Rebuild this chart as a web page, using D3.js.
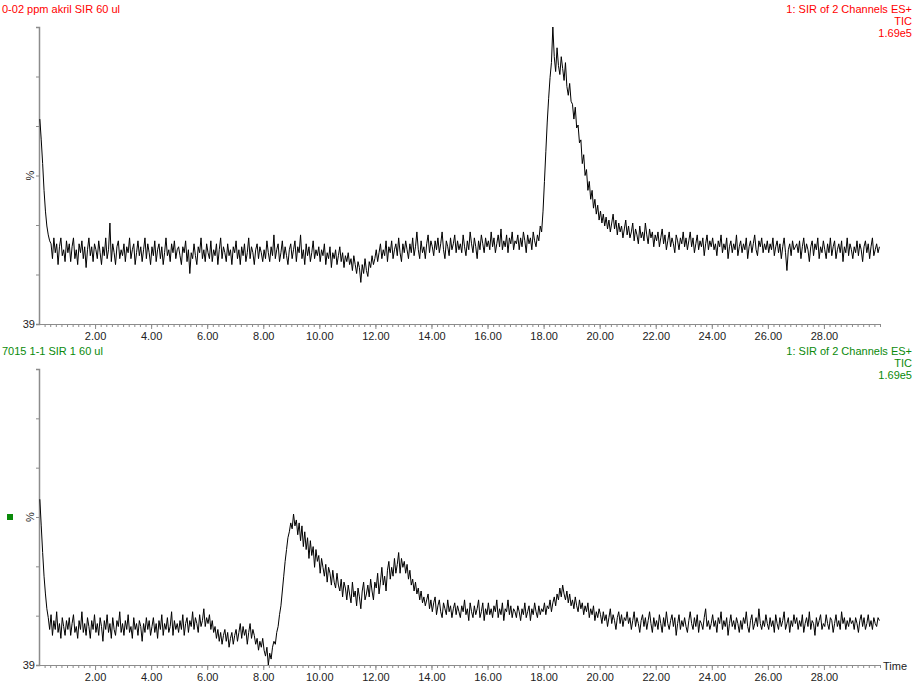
<!DOCTYPE html>
<html lang="en">
<head>
<meta charset="utf-8">
<title>SIR chromatograms</title>
<script type="text/javascript" src="https://cdnjs.cloudflare.com/ajax/libs/d3/7.8.5/d3.min.js"></script>
<style>
body { margin: 0; background: #fff; }
svg text { font-family: "Liberation Sans", Arial, sans-serif; font-size: 11px; }
.axis path, .axis line { stroke: #8c8c8c; }
.trace { fill: none; stroke: #000; stroke-width: 1; }
</style>
</head>
<body>
<div id="chart"></div>
<script type="text/javascript">

// one value per 0.05 min scan (one row = one minute), in % of the 1.69e5 full scale
var scanStep = 0.05;
var firstScan = 0.03;

var topTrace = [
  69, 62, 54, 45, 38, 33, 30, 28, 27, 22, 29, 24, 27, 20, 26, 29, 23, 25, 21, 28,
  24, 27, 21, 26, 29, 22, 25, 20, 27, 24, 28, 22, 26, 19, 25, 29, 23, 26, 21, 27,
  25, 22, 28, 24, 20, 26, 23, 29, 22, 25, 34, 21, 27, 24, 20, 26, 28, 22, 25, 23,
  27, 21, 26, 24, 29, 22, 25, 27, 20, 24, 28, 23, 26, 21, 25, 29, 22, 27, 24, 20,
  26, 23, 28, 21, 25, 27, 22, 26, 20, 24, 29, 23, 25, 21, 27, 24, 28, 22, 25, 26,
  23, 20, 26, 24, 28, 21, 25, 17, 24, 22, 27, 23, 20, 26, 24, 29, 22, 25, 21, 27,
  24, 22, 28, 21, 25, 23, 27, 20, 25, 29, 22, 26, 24, 21, 27, 23, 25, 20, 26, 24,
  28, 22, 25, 20, 26, 23, 27, 21, 24, 29, 22, 26, 24, 20, 25, 27, 22, 26, 24, 21,
  25, 22, 28, 24, 21, 26, 23, 30, 22, 25, 27, 21, 24, 28, 22, 26, 23, 20, 25, 27,
  22, 25, 28, 21, 26, 24, 30, 22, 25, 20, 27, 23, 26, 21, 24, 28, 22, 25, 23, 26,
  21, 25, 23, 27, 20, 24, 22, 26, 19, 24, 22, 25, 20, 23, 26, 21, 24, 19, 23, 21,
  24, 20, 22, 18, 23, 20, 17, 21, 19, 14, 20, 17, 22, 18, 16, 21, 19, 23, 20, 22,
  25, 21, 24, 27, 22, 25, 23, 28, 21, 26, 24, 28, 22, 25, 27, 23, 29, 24, 21, 27,
  24, 28, 25, 22, 27, 24, 29, 23, 26, 31, 25, 22, 28, 24, 26, 22, 27, 30, 24, 28,
  26, 23, 28, 25, 29, 24, 27, 31, 25, 22, 28, 26, 23, 29, 25, 27, 30, 24, 28, 25,
  27, 24, 30, 26, 23, 28, 25, 31, 27, 24, 29, 26, 22, 28, 25, 30, 27, 24, 29, 26,
  28, 25, 31, 26, 29, 24, 27, 30, 26, 32, 25, 28, 26, 30, 24, 29, 27, 31, 25, 28,
  27, 30, 25, 29, 26, 31, 28, 24, 30, 27, 29, 25, 31, 28, 26, 30, 28, 33, 31, 38,
  48, 58, 68, 76, 83, 88, 100, 90, 85, 93, 87, 84, 90, 86, 82, 88, 80, 77, 81, 75,
  74, 69, 73, 66, 67, 61, 62, 54, 57, 50, 52, 45, 48, 42, 45, 39, 42, 37, 40, 35,
  38, 34, 37, 33, 36, 32, 35, 31, 34, 37, 32, 35, 30, 34, 31, 33, 29, 32, 35, 30,
  33, 29, 31, 34, 28, 32, 30, 27, 33, 29, 31, 28, 34, 30, 27, 32, 29, 31, 26, 30,
  28, 31, 26, 29, 32, 27, 30, 25, 28, 31, 26, 29, 27, 24, 30, 28, 25, 29, 27, 31,
  26, 29, 25, 28, 31, 26, 29, 24, 27, 30, 25, 28, 26, 29, 23, 27, 30, 25, 28, 26,
  29, 25, 27, 23, 28, 26, 30, 24, 27, 25, 29, 22, 26, 28, 24, 27, 25, 30, 23, 26,
  28, 24, 27, 25, 29, 22, 26, 28, 24, 27, 30, 25, 23, 28, 26, 29, 24, 27, 25, 28,
  24, 27, 25, 29, 23, 26, 28, 24, 27, 22, 26, 29, 24, 18, 25, 27, 23, 28, 25, 26,
  27, 24, 28, 22, 26, 29, 24, 27, 25, 21, 26, 28, 23, 27, 25, 29, 22, 26, 24, 28,
  25, 22, 27, 24, 29, 23, 26, 28, 22, 25, 27, 24, 28, 21, 26, 24, 29, 23, 27, 25,
  22, 26, 24, 28, 23, 27, 25, 21, 26, 28, 24, 27, 22, 26, 29, 23, 25, 27, 24, 26
];

var bottomTrace = [
  56, 47, 38, 30, 24, 19, 16, 12, 17, 10, 15, 12, 18, 11, 14, 9, 16, 13, 10, 15,
  12, 16, 10, 14, 17, 11, 13, 9, 15, 12, 18, 11, 14, 10, 16, 13, 9, 15, 12, 17,
  11, 14, 10, 16, 13, 8, 15, 12, 17, 11, 14, 9, 16, 12, 10, 15, 13, 18, 11, 14,
  10, 15, 12, 17, 11, 13, 9, 16, 12, 14, 10, 15, 13, 8, 14, 11, 16, 12, 15, 10,
  13, 16, 11, 14, 9, 15, 12, 17, 10, 14, 12, 16, 11, 13, 18, 10, 15, 12, 14, 11,
  15, 12, 17, 10, 14, 16, 11, 15, 13, 18, 12, 16, 14, 11, 17, 13, 15, 19, 13, 16,
  14, 17, 12, 15, 11, 13, 9, 12, 8, 11, 7, 10, 12, 8, 11, 6, 9, 11, 7, 10,
  12, 8, 11, 14, 9, 13, 10, 12, 7, 11, 14, 9, 12, 10, 7, 9, 5, 8, 6, 9,
  5, 3, 6, 0, 4, 2, 6, 8, 7, 11, 13, 17, 20, 25, 30, 35, 39, 43, 45, 48,
  46, 51, 47, 49, 44, 48, 42, 47, 40, 45, 39, 43, 36, 42, 37, 40, 33, 39, 35, 37,
  31, 36, 33, 30, 34, 28, 33, 31, 27, 32, 28, 26, 31, 27, 25, 29, 23, 28, 26, 22,
  27, 24, 21, 28, 23, 25, 20, 26, 23, 19, 25, 28, 22, 24, 27, 23, 29, 25, 22, 28,
  26, 31, 24, 28, 33, 27, 30, 25, 32, 35, 29, 33, 30, 36, 31, 34, 38, 31, 36, 33,
  35, 31, 34, 29, 32, 27, 29, 25, 28, 24, 26, 22, 25, 21, 23, 20, 22, 24, 19, 22,
  18, 21, 23, 17, 20, 22, 18, 16, 21, 19, 17, 22, 18, 20, 16, 19, 21, 17, 20, 18,
  16, 20, 18, 22, 17, 19, 15, 21, 18, 16, 20, 17, 19, 22, 16, 18, 21, 15, 19, 17,
  21, 17, 19, 16, 20, 18, 22, 16, 19, 17, 21, 15, 19, 18, 22, 17, 20, 16, 19, 18,
  16, 20, 18, 15, 19, 17, 21, 16, 18, 20, 15, 19, 17, 21, 18, 16, 20, 17, 19, 18,
  21, 17, 20, 19, 22, 18, 21, 23, 20, 24, 22, 26, 23, 27, 24, 22, 25, 21, 24, 20,
  22, 19, 23, 20, 18, 22, 19, 21, 17, 20, 18, 21, 16, 19, 17, 20, 15, 18, 16, 19,
  17, 14, 18, 15, 17, 13, 16, 19, 14, 17, 15, 12, 16, 18, 14, 17, 13, 16, 15, 18,
  14, 16, 12, 15, 18, 13, 16, 14, 11, 15, 17, 13, 16, 12, 15, 18, 14, 11, 16, 13,
  15, 12, 17, 14, 11, 16, 13, 18, 14, 12, 15, 17, 13, 16, 10, 14, 17, 12, 15, 13,
  16, 13, 11, 15, 18, 14, 12, 16, 13, 17, 11, 15, 14, 12, 16, 19, 13, 15, 12, 14,
  17, 13, 15, 11, 16, 14, 18, 12, 15, 13, 16, 10, 14, 17, 13, 15, 12, 16, 14, 11,
  15, 12, 16, 14, 18, 13, 11, 15, 17, 12, 14, 16, 13, 19, 14, 12, 15, 13, 17, 14,
  12, 16, 13, 15, 11, 17, 14, 12, 16, 13, 15, 18, 12, 14, 16, 11, 15, 13, 17, 14,
  16, 12, 15, 13, 17, 11, 14, 16, 13, 18, 12, 15, 14, 10, 16, 13, 15, 17, 12, 14,
  13, 17, 14, 12, 16, 15, 11, 14, 17, 13, 15, 12, 18, 14, 16, 12, 15, 13, 16, 14,
  15, 12, 16, 14, 11, 15, 17, 13, 16, 12, 14, 17, 13, 15, 12, 16, 14, 13, 16, 15
];

var timeLabels = [2, 4, 6, 8, 10, 12, 14, 16, 18, 20, 22, 24, 26, 28];
var infoLines = ["1: SIR of 2 Channels ES+", "TIC", "1.69e5"];

var panels = [
  { title: "0-02 ppm akril SIR 60 ul", color: "#ff0000", trace: topTrace,
    top: 27, bottom: 324, marker: false, timeLabel: false },
  { title: "7015 1-1 SIR 1 60 ul", color: "#0a8a0a", trace: bottomTrace,
    top: 369, bottom: 665, marker: true, timeLabel: true }
];

var width = 919, height = 684;

var svg = d3.select("#chart").append("svg")
    .attr("width", width)
    .attr("height", height);

var x = d3.scaleLinear().domain([0, 30]).range([39, 880]);

panels.forEach(function(p) {
    var y = d3.scaleLinear().domain([0, 100]).range([p.bottom, p.top]);
    var g = svg.append("g");

    // x axis: minor ticks every 0.2 min, labels every 2 min
    var minor = d3.range(0.2, 30.01, 0.2).map(function(v) { return Math.round(v * 10) / 10; });
    g.append("g")
        .attr("class", "axis")
        .attr("transform", "translate(0," + p.bottom + ")")
        .call(d3.axisBottom(x).tickValues(minor).tickSize(3).tickFormat(""))
        .call(function(s) { s.select(".domain").attr("d", "M39,0.5H880"); });

    var major = g.append("g")
        .attr("class", "axis")
        .attr("transform", "translate(0," + p.bottom + ")")
        .call(d3.axisBottom(x).tickValues(timeLabels).tickSize(5).tickPadding(3).tickFormat(d3.format(".2f")));
    major.select(".domain").remove();
    major.selectAll("text").attr("fill", "#222").style("font-size", "11px");

    // y axis: 6 equal divisions, no labels
    var yAxis = g.append("g")
        .attr("class", "axis")
        .attr("transform", "translate(39,0)")
        .call(d3.axisLeft(y).tickValues(d3.range(0, 7).map(function(i) { return i * 100 / 6; })).tickSize(3).tickFormat(""));
    yAxis.select(".domain").attr("stroke-width", 1.5);

    g.append("text")
        .attr("x", 35).attr("y", p.bottom + 4)
        .attr("text-anchor", "end").attr("fill", "#222")
        .text("39");

    g.append("text")
        .attr("transform", "translate(34," + y(50) + ") rotate(-90)")
        .attr("text-anchor", "middle").attr("fill", "#222")
        .text("%");

    if (p.marker) {
        g.append("rect")
            .attr("x", 7).attr("y", y(50) - 3)
            .attr("width", 6).attr("height", 6)
            .attr("fill", p.color);
    }

    if (p.timeLabel) {
        g.append("text")
            .attr("x", 883).attr("y", p.bottom + 5)
            .attr("fill", "#222")
            .text("Time");
    }

    // trace
    var line = d3.line()
        .x(function(d, i) { return x(firstScan + i * scanStep); })
        .y(function(d) { return y(d); });

    g.append("path")
        .datum(p.trace)
        .attr("class", "trace")
        .attr("d", line);

    // headers
    g.append("text")
        .attr("x", 2).attr("y", p.top - 14)
        .attr("fill", p.color)
        .text(p.title);

    g.selectAll(".info")
        .data(infoLines)
        .enter().append("text")
            .attr("x", 912)
            .attr("y", function(d, i) { return p.top - 14 + i * 12; })
            .attr("text-anchor", "end")
            .attr("fill", p.color)
            .text(function(d) { return d; });
});

</script>
</body>
</html>
